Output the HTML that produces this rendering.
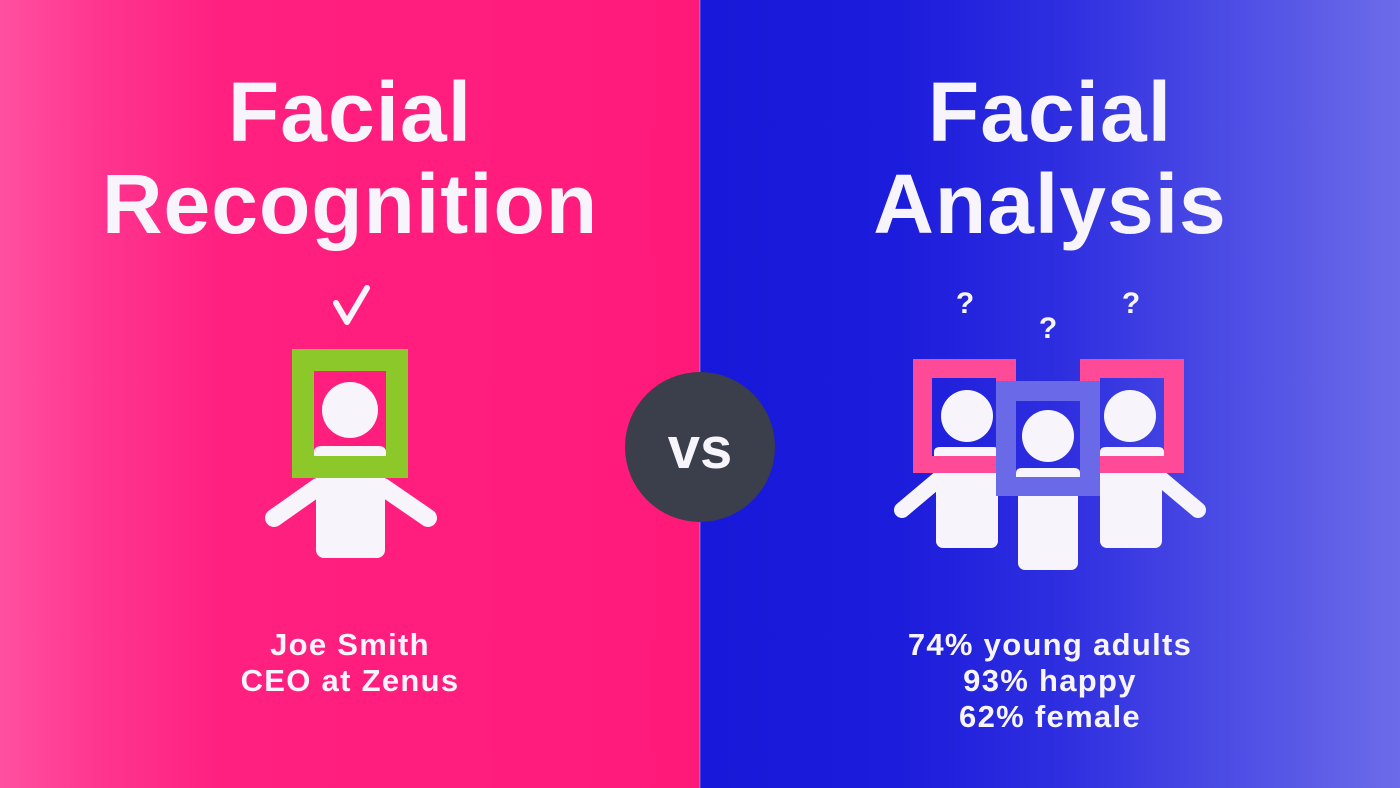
<!DOCTYPE html>
<html><head><meta charset="utf-8"><style>
html,body{margin:0;padding:0}
body{width:1400px;height:788px;position:relative;overflow:hidden;font-family:"Liberation Sans",sans-serif}
.half{position:absolute;top:0;height:788px;width:700px}
#left{left:0;background:linear-gradient(90deg,#ff50a0 0px,#ff3590 100px,#ff2080 220px,#ff1a7a 700px)}
#right{left:700px;background:linear-gradient(90deg,#1818da 0px,#1c1cdc 200px,#2e2ee0 360px,#5252e6 560px,#6c6ce9 700px)}
.t{position:absolute;color:#f7f5fb;font-weight:bold;text-align:center;width:700px;left:0}
.title{font-size:84px;line-height:92px;top:66px;letter-spacing:1px}
.sub{font-size:31px;line-height:36px;top:627px;letter-spacing:1.3px}
</style></head><body>
<div id="left" class="half">
  <div class="t title">Facial<br>Recognition</div>
  <div class="t sub">Joe Smith<br>CEO at Zenus</div>
</div>
<div id="right" class="half">
  <div class="t title">Facial<br>Analysis</div>
  <div class="t sub">74% young adults<br>93% happy<br>62% female</div>
</div>
<svg width="1400" height="788" style="position:absolute;left:0;top:0">
  <g fill="#f7f5fb">
    <path d="M336 303 L347 322 L367 288" fill="none" stroke="#f7f5fb" stroke-width="6" stroke-linecap="round" stroke-linejoin="round"/>
    <line x1="318" y1="487" x2="274" y2="518" stroke="#f7f5fb" stroke-width="18" stroke-linecap="round"/>
    <line x1="383" y1="487" x2="428" y2="518" stroke="#f7f5fb" stroke-width="18" stroke-linecap="round"/>
    <rect x="316" y="470" width="69" height="88" rx="8"/>
    <path d="M292 349 H408 V478 H292 Z M314 371 V456 H386 V371 Z" fill="#8cc82a" fill-rule="evenodd"/>
    <circle cx="350" cy="410" r="28"/>
    <path d="M314 456 V452 Q314 446 322 446 H378 Q386 446 386 452 V456 Z"/>
  </g>
  <line x1="700" y1="0" x2="700" y2="788" stroke="#c9c2e8" stroke-width="1" opacity="0.5"/>
  <circle cx="700" cy="447" r="75" fill="#3b3e4b"/>
  <text x="700" y="468" font-size="58" font-weight="bold" fill="#f7f5fb" text-anchor="middle" font-family="Liberation Sans, sans-serif">vs</text>
  <g fill="#f7f5fb">
    <g font-size="30" font-weight="bold" text-anchor="middle" font-family="Liberation Sans, sans-serif">
      <text x="965" y="313">?</text>
      <text x="1048" y="338">?</text>
      <text x="1131" y="313">?</text>
    </g>
    <line x1="940" y1="478" x2="902" y2="510" stroke="#f7f5fb" stroke-width="16" stroke-linecap="round"/>
    <line x1="1160" y1="478" x2="1198" y2="510" stroke="#f7f5fb" stroke-width="16" stroke-linecap="round"/>
    <rect x="936" y="465" width="62" height="83" rx="7"/>
    <rect x="1100" y="465" width="62" height="83" rx="7"/>
    <path d="M913 359 H1016 V473 H913 Z M932 378 V456 H996 V378 Z" fill="#ff4a98" fill-rule="evenodd"/>
    <path d="M1080 359 H1184 V473 H1080 Z M1100 378 V456 H1164 V378 Z" fill="#ff4a98" fill-rule="evenodd"/>
    <circle cx="967" cy="416" r="26"/>
    <circle cx="1130" cy="416" r="26"/>
    <path d="M934 456 V452 Q934 447 940 447 H994 Q998 447 998 452 V456 Z"/>
    <path d="M1100 456 V452 Q1100 447 1106 447 H1158 Q1164 447 1164 452 V456 Z"/>
    <rect x="1018" y="488" width="60" height="82" rx="7"/>
    <path d="M996 381 H1100 V496 H996 Z M1016 401 V477 H1080 V401 Z" fill="#6a6ae8" fill-rule="evenodd"/>
    <circle cx="1048" cy="436" r="26"/>
    <path d="M1016 477 V473 Q1016 468 1022 468 H1074 Q1080 468 1080 473 V477 Z"/>
  </g>
</svg>
</body></html>
